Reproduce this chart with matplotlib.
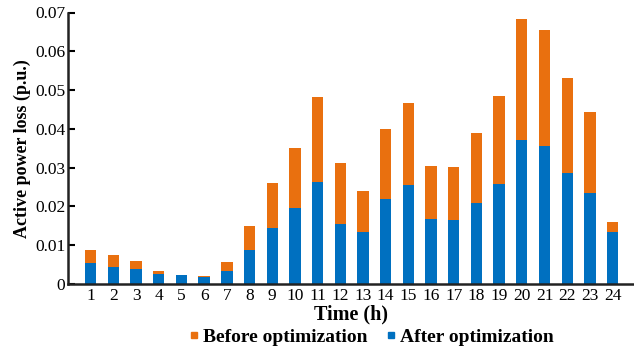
import matplotlib
matplotlib.use("Agg")
import matplotlib.pyplot as plt
from matplotlib.lines import Line2D
import numpy as np

hours = list(range(1, 25))
before = [0.0088, 0.0075, 0.0059, 0.0034, 0.0023, 0.0021, 0.0057, 0.0150,
          0.0260, 0.0351, 0.0483, 0.0311, 0.0240, 0.0400, 0.0466, 0.0304,
          0.0302, 0.0390, 0.0486, 0.0682, 0.0654, 0.0531, 0.0443, 0.0159]
after = [0.0053, 0.0045, 0.0038, 0.0026, 0.0022, 0.0019, 0.0034, 0.0087,
         0.0145, 0.0196, 0.0263, 0.0154, 0.0133, 0.0219, 0.0256, 0.0167,
         0.0164, 0.0208, 0.0259, 0.0372, 0.0356, 0.0285, 0.0235, 0.0133]
yticks = [0, 0.01, 0.02, 0.03, 0.04, 0.05, 0.06, 0.07]
ytick_labels = ["0", "0.01", "0.02", "0.03", "0.04", "0.05", "0.06", "0.07"]

orange = "#E9700F"
blue = "#0070C0"

plt.rcParams['font.family'] = ['Liberation Serif', 'DejaVu Serif']

fig = plt.figure(figsize=(6.34, 3.49), dpi=100)
ax = fig.add_axes([68/634, 1 - 284/349, (633 - 68)/634, (284 - 12.5)/349])

x = np.array(hours)
diff = np.array(before) - np.array(after)
ax.bar(x, after, width=0.5, color=blue, edgecolor='none', zorder=2)
ax.bar(x, diff, bottom=after, width=0.5, color=orange, edgecolor='none', zorder=2)

ax.set_xlim(0, 24.9)
ax.set_ylim(0, 0.07)
ax.set_xticks(hours)
ax.set_xticklabels([str(h) for h in hours], fontsize=12.5)
ax.set_yticks(yticks)
ax.set_yticklabels(ytick_labels, fontsize=12.5)
ax.tick_params(axis='y', direction='in', length=5, width=1.5, pad=2)
ax.tick_params(axis='x', length=0, pad=3)
for s in ['top', 'right']:
    ax.spines[s].set_visible(False)
for s in ['left', 'bottom']:
    ax.spines[s].set_linewidth(1.8)
    ax.spines[s].set_color('#222222')

ax.set_xlabel("Time (h)", fontsize=14.5, fontweight='bold', labelpad=0)
ax.set_ylabel("Active power loss (p.u.)", fontsize=13, fontweight='bold', labelpad=3)

handles = [Line2D([], [], marker='s', linestyle='none', color=orange, markersize=5),
           Line2D([], [], marker='s', linestyle='none', color=blue, markersize=5)]
fig.legend(handles, ["Before optimization", "After optimization"], ncol=2,
           loc='center', bbox_to_anchor=(0.586, 1 - 337/349), frameon=False,
           prop={'size': 14, 'weight': 'bold'}, handlelength=0.5, handletextpad=0.2,
           columnspacing=1.0, borderaxespad=0, borderpad=0)

fig.savefig("out.png", dpi=100)
